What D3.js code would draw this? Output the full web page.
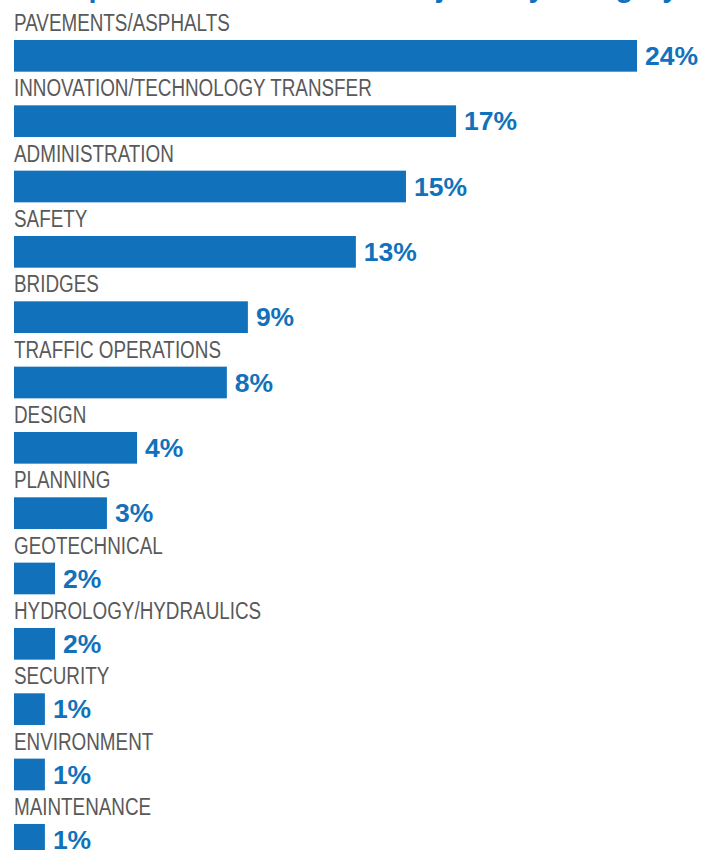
<!DOCTYPE html>
<html>
<head>
<meta charset="utf-8">
<script src="https://cdn.jsdelivr.net/npm/d3@7"></script>
<style>
  html, body { margin: 0; padding: 0; background: #fff; overflow: hidden; }
</style>
</head>
<body>
<svg id="chart"></svg>
<script>
const title = 'Completed SPR Research Projects by Category'

const categories = [
  'PAVEMENTS/ASPHALTS',
  'INNOVATION/TECHNOLOGY TRANSFER',
  'ADMINISTRATION',
  'SAFETY',
  'BRIDGES',
  'TRAFFIC OPERATIONS',
  'DESIGN',
  'PLANNING',
  'GEOTECHNICAL',
  'HYDROLOGY/HYDRAULICS',
  'SECURITY',
  'ENVIRONMENT',
  'MAINTENANCE',
]

// bar lengths as drawn (the printed labels are rounded)
const shares = [24, 17.03, 15.1, 13.17, 9.01, 8.2, 4.74, 3.58, 1.58, 1.58, 1.19, 1.19, 1.19]
const shareLabels = ['24%', '17%', '15%', '13%', '9%', '8%', '4%', '3%', '2%', '2%', '1%', '1%', '1%']

const width = 715
const height = 850
const blue = '#1172bb'

const margins = {left: 14, top: 40}

const svg = d3.select('#chart').attr('width', width).attr('height', height)

const x = d3.scaleLinear().domain([0, 24]).range([margins.left, 637])

const y = d3
  .scaleBand()
  .domain(categories)
  .range([margins.top, margins.top + 65.33 * (categories.length - 0.515)])
  .paddingInner(0.515)
  .paddingOuter(0)

// title, mostly above the top edge (only descenders show)
svg
  .append('text')
  .attr('x', 24)
  .attr('y', -3.5)
  .attr('fill', blue)
  .attr('font-family', '"Liberation Sans", Arial, sans-serif')
  .attr('font-weight', 700)
  .attr('font-size', 29)
  .text(title)

const rows = svg
  .append('g')
  .selectAll('g')
  .data(categories)
  .join('g')

rows
  .append('rect')
  .attr('x', x(0))
  .attr('y', d => y(d))
  .attr('width', (d, i) => x(shares[i]) - x(0))
  .attr('height', y.bandwidth())
  .attr('fill', blue)

// condensed gray category names
rows
  .append('text')
  .attr('transform', d => `translate(${margins.left}, ${y(d) - 9}) scale(0.82, 1)`)
  .attr('fill', '#595959')
  .attr('font-family', '"Liberation Sans Narrow", "Arial Narrow", sans-serif')
  .attr('font-size', 23)
  .text(d => d)

rows
  .append('text')
  .attr('x', (d, i) => x(shares[i]) + 8)
  .attr('y', d => y(d) + y.bandwidth() / 2)
  .attr('dy', '0.35em')
  .attr('fill', blue)
  .attr('font-family', '"Liberation Sans", Arial, sans-serif')
  .attr('font-weight', 700)
  .attr('font-size', 26.5)
  .text((d, i) => shareLabels[i])
</script>
</body>
</html>
